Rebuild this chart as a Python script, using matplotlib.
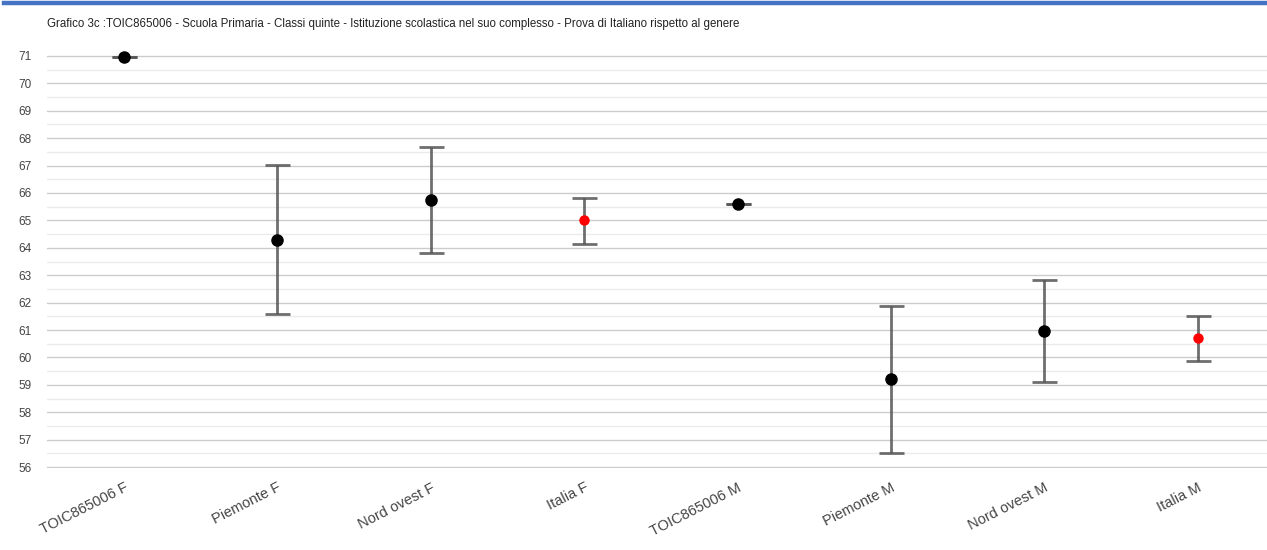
import matplotlib
matplotlib.use("Agg")
import matplotlib.pyplot as plt
from matplotlib.lines import Line2D

# data
categories = ["TOIC865006 F", "Piemonte F", "Nord ovest F", "Italia F",
              "TOIC865006 M", "Piemonte M", "Nord ovest M", "Italia M"]
means = [70.94, 64.30, 65.73, 65.00, 65.58, 59.20, 60.95, 60.70]
lower = [70.94, 61.59, 63.81, 64.13, 65.58, 56.51, 59.10, 59.88]
upper = [70.94, 67.03, 67.67, 65.82, 65.58, 61.88, 62.83, 61.52]
point_colors = ["black", "black", "black", "red", "black", "black", "black", "red"]
yticks = list(range(56, 72))

title = ("Grafico 3c :TOIC865006 - Scuola Primaria - Classi quinte - Istituzione "
         "scolastica nel suo complesso - Prova di Italiano rispetto al genere")

plt.rcParams['font.family'] = ['Liberation Sans', 'DejaVu Sans']

fig = plt.figure(figsize=(12.67, 5.5), dpi=100)
ax = fig.add_axes([47 / 1267, 1 - 468 / 550, 1220 / 1267, 413 / 550])

# blue rule at the very top of the page
fig.add_artist(Line2D([4 / 1267, 1], [1 - 2.5 / 550, 1 - 2.5 / 550],
                      color="#4472C4", linewidth=3.2, transform=fig.transFigure))

fig.text(47 / 1267, 1 - 24 / 550, title, fontsize=8.3, color="#222222",
         ha="left", va="center")

x = list(range(len(categories)))
for i in x:
    ax.errorbar(i, means[i],
                yerr=[[means[i] - lower[i]], [upper[i] - means[i]]],
                fmt="none", ecolor="#555555", alpha=0.85, elinewidth=2,
                capsize=9, capthick=2, zorder=3, clip_on=False)
    size = 8 if point_colors[i] == "black" else 6.5
    ax.plot(i, means[i], "o", color=point_colors[i], markersize=size,
            zorder=4, clip_on=False)

ax.set_xlim(-0.502, 7.451)
ax.set_ylim(55.97, 71.03)
ax.set_yticks(yticks)
ax.set_yticks([v + 0.5 for v in yticks[:-1]], minor=True)
ax.grid(True, which="major", axis="y", color="#cccccc", linewidth=1)
ax.grid(True, which="minor", axis="y", color="#ebebeb", linewidth=1)
ax.set_axisbelow(True)

ax.set_xticks(x)
ax.set_xticklabels(categories, rotation=27, ha="right", rotation_mode="anchor",
                   fontsize=10.5, color="#444444")
ax.tick_params(axis="x", length=0, pad=9)
ax.tick_params(axis="y", which="both", length=0, pad=11, labelsize=8.5,
               labelcolor="#444444")
for s in ax.spines.values():
    s.set_visible(False)

fig.savefig("out.png", dpi=100)
